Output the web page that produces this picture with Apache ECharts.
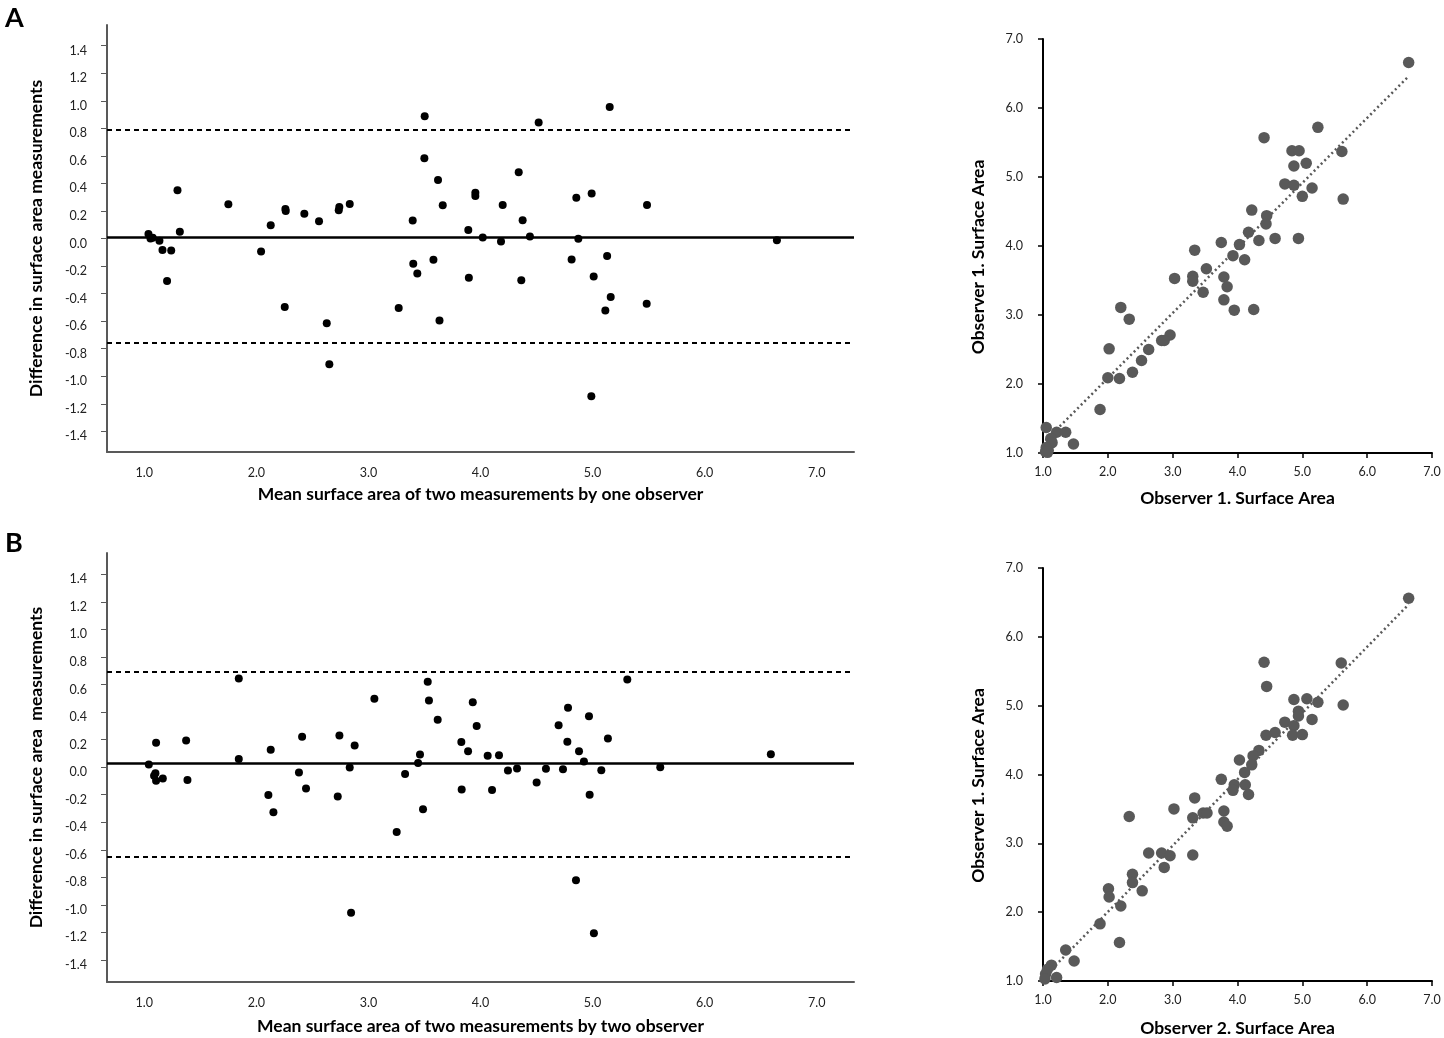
<!DOCTYPE html>
<html>
<head>
<meta charset="utf-8">
<title>Bland-Altman and agreement plots</title>
<script src="https://cdn.jsdelivr.net/npm/echarts@6/dist/echarts.min.js"></script>
<style>
    html, body { margin: 0; padding: 0; background: #fff; }
    #chart { width: 1444px; height: 1038px; }
</style>
</head>
<body>
<div id="chart"></div>
<script>
// Tick labels
var diffTicks = [-1.4, -1.2, -1.0, -0.8, -0.6, -0.4, -0.2, 0.0, 0.2, 0.4, 0.6, 0.8, 1.0, 1.2, 1.4];
var meanTicks = [1, 2, 3, 4, 5, 6, 7];
var areaTicks = [1, 2, 3, 4, 5, 6, 7];

// A - Bland-Altman, one observer (mean of two measurements vs difference)
var meanA = [1.037, 1.055, 1.075, 1.135, 1.162, 1.24, 1.203, 1.296, 1.317, 1.75,
    2.042, 2.128, 2.253, 2.259, 2.262, 2.428, 2.559, 2.628, 2.651, 2.735,
    2.74, 2.833, 3.27, 3.395, 3.4, 3.436, 3.499, 3.502, 3.58, 3.621,
    3.634, 3.663, 3.891, 3.896, 3.954, 3.954, 4.02, 4.183, 4.198, 4.341,
    4.364, 4.376, 4.441, 4.519, 4.813, 4.855, 4.873, 4.989, 4.992, 5.01,
    5.114, 5.13, 5.153, 5.162, 5.483, 5.486, 6.645];
var diffA = [0.032, 0.0, 0.005, -0.016, -0.084, -0.087, -0.309, 0.35, 0.049, 0.249,
    -0.094, 0.097, -0.497, 0.215, 0.199, 0.179, 0.126, -0.616, -0.913, 0.206,
    0.228, 0.251, -0.505, 0.13, -0.183, -0.254, 0.583, 0.887, -0.154, 0.425,
    -0.596, 0.242, 0.061, -0.285, 0.333, 0.309, 0.007, -0.022, 0.244, 0.481,
    -0.304, 0.133, 0.014, 0.843, -0.152, 0.295, -0.002, -1.145, 0.326, -0.275,
    -0.522, -0.127, 0.954, -0.425, -0.473, 0.244, -0.012];
var limitsA = [-0.761, 0.012, 0.785]; // lower, bias, upper

// A - Observer 1 surface area, scatter
var obsA_x = [6.64, 5.24, 4.41, 4.84, 4.95, 5.61, 5.06, 4.87, 4.73, 4.87,
    5.15, 5.0, 5.63, 4.22, 4.45, 4.44, 4.17, 4.58, 4.94, 4.33,
    3.75, 4.03, 3.34, 3.93, 4.11, 3.52, 3.31, 3.03, 3.79, 3.31,
    3.84, 3.47, 3.79, 3.95, 4.25, 2.20, 2.33, 2.96, 2.83, 2.87,
    2.63, 2.02, 2.52, 2.38, 2.0, 2.18, 1.88, 1.05, 1.21, 1.35,
    1.12, 1.14, 1.47, 1.05, 1.04, 1.08, 1.07];
var obsA_y = [6.66, 5.72, 5.57, 5.38, 5.38, 5.37, 5.20, 5.16, 4.90, 4.88,
    4.84, 4.72, 4.68, 4.52, 4.44, 4.32, 4.20, 4.11, 4.11, 4.08,
    4.05, 4.02, 3.94, 3.86, 3.80, 3.67, 3.56, 3.53, 3.55, 3.49,
    3.41, 3.33, 3.22, 3.07, 3.08, 3.11, 2.94, 2.71, 2.63, 2.63,
    2.50, 2.51, 2.34, 2.17, 2.09, 2.08, 1.63, 1.37, 1.30, 1.30,
    1.21, 1.15, 1.13, 1.08, 1.02, 1.04, 1.01];
var trendA = [[1.04, 1.18], [6.64, 6.46]];

// B - Bland-Altman, two observers
var meanB = [1.04, 1.105, 1.099, 1.087, 1.105, 1.165, 1.373, 1.385, 1.843, 1.843,
    2.107, 2.128, 2.152, 2.38, 2.408, 2.443, 2.726, 2.741, 2.833, 2.845,
    2.877, 3.053, 3.252, 3.327, 3.443, 3.46, 3.487, 3.529, 3.54, 3.618,
    3.829, 3.832, 3.889, 3.931, 3.966, 4.064, 4.103, 4.165, 4.245, 4.326,
    4.501, 4.584, 4.697, 4.736, 4.775, 4.781, 4.852, 4.879, 4.923, 4.968,
    4.974, 5.012, 5.078, 5.137, 5.31, 5.604, 6.591];
var diffB = [0.02, 0.177, -0.044, -0.063, -0.099, -0.082, 0.194, -0.094, 0.644, 0.06,
    -0.203, 0.126, -0.327, -0.039, 0.22, -0.155, -0.213, 0.23, -0.002, -1.058,
    0.158, 0.496, -0.47, -0.05, 0.03, 0.092, -0.305, 0.62, 0.484, 0.345,
    0.182, -0.162, 0.116, 0.472, 0.298, 0.082, -0.165, 0.087, -0.024, -0.01,
    -0.111, -0.012, 0.305, -0.015, 0.184, 0.431, -0.821, 0.116, 0.041, 0.37,
    -0.201, -1.206, -0.022, 0.208, 0.637, 0.0, 0.094];
var limitsB = [-0.645, 0.029, 0.695];

// B - Observer 2 vs Observer 1 surface area, scatter
var obsB_x = [6.64, 4.41, 5.60, 4.45, 4.87, 5.07, 5.24, 5.63, 4.94, 4.94,
    5.15, 4.73, 4.87, 4.58, 4.44, 4.85, 5.00, 4.33, 4.24, 4.03,
    4.22, 4.11, 3.75, 3.95, 3.93, 4.12, 4.17, 3.34, 3.02, 3.47,
    3.53, 3.79, 3.31, 2.33, 3.79, 3.84, 2.63, 2.83, 2.96, 3.31,
    2.87, 2.38, 2.38, 2.53, 2.01, 2.02, 2.20, 1.88, 2.18, 1.35,
    1.48, 1.13, 1.07, 1.04, 1.21, 1.03];
var obsB_y = [6.56, 5.63, 5.62, 5.28, 5.09, 5.10, 5.05, 5.01, 4.92, 4.85,
    4.80, 4.76, 4.71, 4.61, 4.57, 4.57, 4.58, 4.35, 4.27, 4.21,
    4.14, 4.03, 3.93, 3.85, 3.77, 3.85, 3.71, 3.66, 3.50, 3.44,
    3.44, 3.47, 3.37, 3.39, 3.31, 3.25, 2.86, 2.86, 2.82, 2.83,
    2.65, 2.55, 2.43, 2.31, 2.34, 2.22, 2.09, 1.83, 1.56, 1.45,
    1.29, 1.23, 1.17, 1.10, 1.05, 1.03];
var trendB = [[1.03, 1.07], [6.64, 6.47]];

var FONT = 'Lato, "Liberation Sans", sans-serif';
var TITLE_SIZE = 17.5;

function pairs(xs, ys) {
    var out = [];
    for (var i = 0; i < xs.length; i++) {
        out.push([xs[i], ys[i]]);
    }
    return out;
}

function fmt1(v) {
    return Number(v).toFixed(1);
}

var chart = echarts.init(document.getElementById('chart'));

// Bland-Altman axes
function baXAxis(gridIndex, name, gap) {
    return {
        gridIndex: gridIndex,
        type: 'value',
        min: 0.667,
        max: 7.333,
        name: name,
        nameLocation: 'middle',
        nameGap: gap,
        nameTextStyle: { fontFamily: FONT, fontSize: TITLE_SIZE, fontWeight: 'bold', color: '#000' },
        axisLine: { show: true, onZero: false, lineStyle: { color: '#595959', width: 2 } },
        axisTick: { show: false },
        splitLine: { show: false },
        axisLabel: {
            customValues: meanTicks,
            formatter: fmt1,
            margin: 14,
            fontFamily: FONT,
            fontSize: 12.5,
            color: '#222'
        }
    };
}

function baYAxis(gridIndex, name, min, max) {
    return {
        gridIndex: gridIndex,
        type: 'value',
        min: min,
        max: max,
        name: name,
        nameLocation: 'middle',
        nameRotate: 90,
        nameGap: 62,
        nameTextStyle: { fontFamily: FONT, fontSize: TITLE_SIZE, fontWeight: 'bold', color: '#000' },
        axisLine: { show: true, onZero: false, lineStyle: { color: '#595959', width: 2 } },
        axisTick: { show: true, customValues: diffTicks, length: 6, lineStyle: { color: '#595959', width: 1 } },
        splitLine: { show: false },
        axisLabel: {
            customValues: diffTicks,
            formatter: fmt1,
            margin: 20,
            verticalAlign: 'top',
            lineHeight: 10,
            fontFamily: FONT,
            fontSize: 12.5,
            color: '#222'
        }
    };
}

// Scatter axes
function scXAxis(gridIndex, name, gap) {
    return {
        gridIndex: gridIndex,
        type: 'value',
        min: 1,
        max: 7,
        name: name,
        nameLocation: 'middle',
        nameGap: gap,
        nameTextStyle: { fontFamily: FONT, fontSize: TITLE_SIZE, fontWeight: 'bold', color: '#000' },
        axisLine: { show: true, onZero: false, lineStyle: { color: '#000', width: 2 } },
        axisTick: { show: true, customValues: areaTicks, length: 5, lineStyle: { color: '#000', width: 1.5 } },
        splitLine: { show: false },
        axisLabel: {
            customValues: areaTicks,
            formatter: fmt1,
            margin: 12,
            fontFamily: FONT,
            fontSize: 12.5,
            color: '#222'
        }
    };
}

function scYAxis(gridIndex, name) {
    return {
        gridIndex: gridIndex,
        type: 'value',
        min: 1,
        max: 7,
        name: name,
        nameLocation: 'middle',
        nameRotate: 90,
        nameGap: 56,
        nameTextStyle: {
            fontFamily: FONT,
            fontSize: TITLE_SIZE,
            fontWeight: 'bold',
            color: '#000',
            padding: [0, 22, 0, 0]
        },
        axisLine: { show: true, onZero: false, lineStyle: { color: '#000', width: 2 } },
        axisTick: { show: true, customValues: areaTicks, length: 5, lineStyle: { color: '#000', width: 1.5 } },
        splitLine: { show: false },
        axisLabel: {
            customValues: areaTicks,
            formatter: fmt1,
            margin: 20,
            fontFamily: FONT,
            fontSize: 12.5,
            color: '#222'
        }
    };
}

function baLines(limits) {
    return {
        silent: true,
        symbol: ['none', 'none'],
        label: { show: false },
        animation: false,
        data: [
            { yAxis: limits[1], lineStyle: { color: '#000', width: 2.5, type: 'solid' } },
            { yAxis: limits[0], lineStyle: { color: '#000', width: 2, type: [5, 4] } },
            { yAxis: limits[2], lineStyle: { color: '#000', width: 2, type: [5, 4] } }
        ]
    };
}

chart.setOption({
    animation: false,
    textStyle: { fontFamily: FONT },

    // Panel letters
    title: [
        { text: 'A', left: 0, top: 0, textStyle: { fontFamily: FONT, fontSize: 27, fontWeight: 'bold', color: '#000' } },
        { text: 'B', left: 0, top: 525, textStyle: { fontFamily: FONT, fontSize: 27, fontWeight: 'bold', color: '#000' } }
    ],

    grid: [
        { left: 107, top: 25, width: 747, height: 427 },
        { left: 1043, top: 39, width: 389, height: 414 },
        { left: 107, top: 553, width: 747, height: 429 },
        { left: 1043, top: 568, width: 389, height: 414 }
    ],

    xAxis: [
        baXAxis(0, 'Mean surface area of two measurements by one observer', 33),
        scXAxis(1, 'Observer 1. Surface Area', 36),
        baXAxis(2, 'Mean surface area of two measurements by two observer', 35),
        scXAxis(3, 'Observer 2. Surface Area', 38)
    ],

    yAxis: [
        baYAxis(0, 'Difference in surface area measurements', -1.55, 1.55),
        scYAxis(1, 'Observer 1. Surface Area'),
        baYAxis(2, 'Difference in surface area  measurements', -1.56, 1.555),
        scYAxis(3, 'Observer 1. Surface Area')
    ],

    series: [
        {
            type: 'scatter',
            xAxisIndex: 0,
            yAxisIndex: 0,
            symbolSize: 8,
            itemStyle: { color: '#000', opacity: 1 },
            data: pairs(meanA, diffA),
            markLine: baLines(limitsA),
            z: 3
        },
        {
            type: 'line',
            xAxisIndex: 1,
            yAxisIndex: 1,
            symbol: 'none',
            lineStyle: { color: '#595959', width: 2.5, type: [2, 3] },
            data: trendA,
            z: 2
        },
        {
            type: 'scatter',
            xAxisIndex: 1,
            yAxisIndex: 1,
            symbolSize: 11.5,
            itemStyle: { color: '#595959', opacity: 1 },
            data: pairs(obsA_x, obsA_y),
            z: 3
        },
        {
            type: 'scatter',
            xAxisIndex: 2,
            yAxisIndex: 2,
            symbolSize: 8,
            itemStyle: { color: '#000', opacity: 1 },
            data: pairs(meanB, diffB),
            markLine: baLines(limitsB),
            z: 3
        },
        {
            type: 'line',
            xAxisIndex: 3,
            yAxisIndex: 3,
            symbol: 'none',
            lineStyle: { color: '#595959', width: 2.5, type: [2, 3] },
            data: trendB,
            z: 2
        },
        {
            type: 'scatter',
            xAxisIndex: 3,
            yAxisIndex: 3,
            symbolSize: 11.5,
            itemStyle: { color: '#595959', opacity: 1 },
            data: pairs(obsB_x, obsB_y),
            z: 3
        }
    ]
});

window.addEventListener('resize', function () {
    chart.resize();
});
</script>
</body>
</html>
